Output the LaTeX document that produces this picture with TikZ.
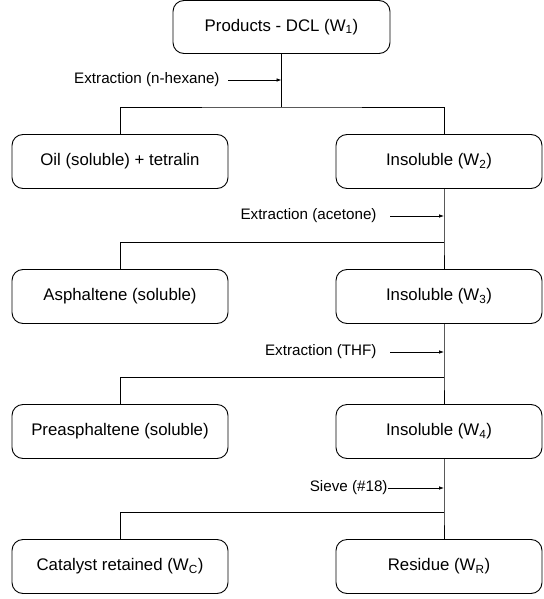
\documentclass[tikz,border=0pt]{standalone}
\usepackage{fontspec}
\setmainfont{Liberation Sans}
\usetikzlibrary{arrows.meta}
\begin{document}
\begin{tikzpicture}[x=1pt,y=-1pt,line width=0.9pt,
  box/.style={draw,rounded corners=11pt,minimum height=54pt,inner sep=0pt,font=\fontsize{16.8}{20}\selectfont},
  lbl/.style={anchor=east,inner ysep=0pt,font=\fontsize{15.2}{18}\selectfont},
  feed/.style={-{Latex[length=5pt,width=3.6pt]},line width=0.8pt}]
\useasboundingbox (0,0) rectangle (543,599);

\node[box,minimum width=217pt,minimum height=53pt] (dcl) at (281.5,27) {Products - DCL (W\textsubscript{1})};

\node[box,minimum width=216pt] (oil)   at (120,161.5) {Oil (soluble) + tetralin};
\node[box,minimum width=206pt] (w2)    at (439,161.5) {Insoluble (W\textsubscript{2})};
\node[box,minimum width=216pt] (asph)  at (120,296.5) {Asphaltene (soluble)};
\node[box,minimum width=206pt] (w3)    at (439,296.5) {Insoluble (W\textsubscript{3})};
\node[box,minimum width=216pt] (preas) at (120,431.5) {Preasphaltene (soluble)};
\node[box,minimum width=206pt] (w4)    at (439,431.5) {Insoluble (W\textsubscript{4})};
\node[box,minimum width=216pt] (cat)   at (120,566.5) {Catalyst retained (W\textsubscript{C})};
\node[box,minimum width=206pt] (res)   at (439,566.5) {Residue (W\textsubscript{R})};

% branch points and feed points
\coordinate (j1) at (281.5,107);
\coordinate (j2) at (444,242);
\coordinate (j3) at (444,377);
\coordinate (j4) at (444,512);
\coordinate (a1) at (281.5,80);
\coordinate (a2) at (444,216);
\coordinate (a3) at (444,352);
\coordinate (a4) at (444,488);

\draw (dcl.south) -- (j1);
\draw (oil.north) |- (j1) -| (w2.north -| j2);
\draw (w2.south -| j2) -- (j2) -- (w3.north -| j2);
\draw (j2) -| (asph.north);
\draw (w3.south -| j3) -- (j3) -- (w4.north -| j3);
\draw (j3) -| (preas.north);
\draw (w4.south -| j4) -- (j4) -- (res.north -| j4);
\draw (j4) -| (cat.north);

\node[lbl,inner xsep=8pt]  (l1) at (228,80)  {Extraction (n-hexane)};
\node[lbl,inner xsep=13pt] (l2) at (390,216) {Extraction (acetone)};
\node[lbl,inner xsep=13pt] (l3) at (390,352) {Extraction (THF)};
\node[lbl,inner xsep=0pt]  (l4) at (388,488) {Sieve (\#18)};

\draw[feed] (l1) -- (a1);
\draw[feed] (l2) -- (a2);
\draw[feed] (l3) -- (a3);
\draw[feed] (l4) -- (a4);
\end{tikzpicture}
\end{document}
